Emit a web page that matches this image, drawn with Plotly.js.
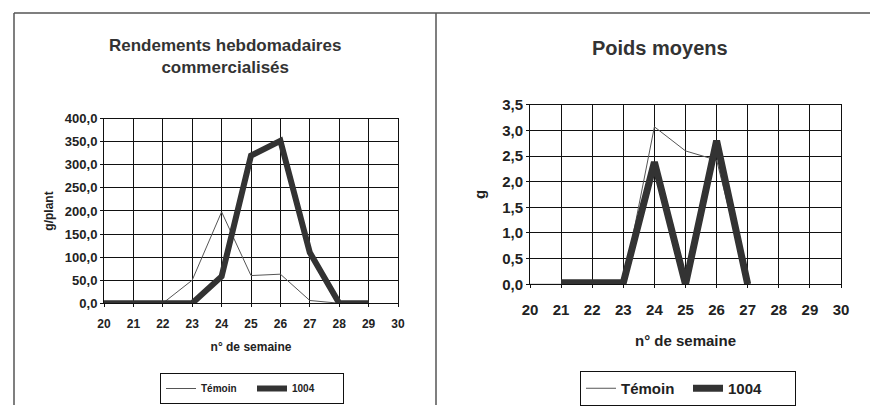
<!DOCTYPE html>
<html><head><meta charset="utf-8">
<script src="https://cdn.plot.ly/plotly-3.0.1.min.js"></script>
<style>html,body{margin:0;padding:0;background:#fff}</style>
</head><body><div id="chart" style="width:870px;height:406px"></div>
<script>
// Data
const weeks = [20, 21, 22, 23, 24, 25, 26, 27, 28, 29];
const rendTemoin = [0, 0, 0, 50, 198, 60, 63, 6, 0, 0];
const rend1004  = [0, 0, 0, 0, 58, 320, 352, 110, 0, 0];
const poidsWeeks = [20, 21, 22, 23, 24, 25, 26, 27];
const poidsTemoin = [0, 0, 0, 0, 3.07, 2.6, 2.42, 0];
const poids1004  = [null, 0.03, 0.03, 0.03, 2.38, 0, 2.8, 0];
const xTicks = [20, 21, 22, 23, 24, 25, 26, 27, 28, 29, 30];
const yTicksLeft = [0, 50, 100, 150, 200, 250, 300, 350, 400];
const yTicksRight = [0, 0.5, 1, 1.5, 2, 2.5, 3, 3.5];
const seriesNames = ['Témoin', '1004'];
const titleLeft = 'Rendements hebdomadaires<br>commercialisés';
const titleRight = 'Poids moyens';

const W = 870, H = 406;
const px = v => v / W, py = v => 1 - v / H;
const F = 'Liberation Sans, Arial, sans-serif';
const ink = '#222';
const thinC = '#555', thickC = '#333';
const bold = s => '<b>' + s + '</b>';
const fmt1 = v => bold(v.toFixed(1).replace('.', ','));

const traces = [
  {x: weeks, y: rendTemoin, name: bold(seriesNames[0]), mode: 'lines', line: {color: thinC, width: 1}, xaxis: 'x', yaxis: 'y', legend: 'legend'},
  {x: weeks, y: rend1004, name: bold(seriesNames[1]), mode: 'lines', line: {color: thickC, width: 6}, xaxis: 'x', yaxis: 'y', legend: 'legend'},
  {x: poidsWeeks, y: poidsTemoin, name: bold(seriesNames[0]), mode: 'lines', line: {color: thinC, width: 1}, xaxis: 'x2', yaxis: 'y2', legend: 'legend2'},
  {x: poidsWeeks, y: poids1004, name: bold(seriesNames[1]), mode: 'lines', line: {color: thickC, width: 7}, xaxis: 'x2', yaxis: 'y2', legend: 'legend2', connectgaps: false}
];

const axBase = {
  showgrid: true, gridcolor: '#111', gridwidth: 1, zeroline: false,
  showline: true, linecolor: '#111', linewidth: 1, mirror: true,
  ticks: 'outside', ticklen: 3, tickcolor: '#111', tickmode: 'array'
};

const layout = {
  width: W, height: H,
  margin: {l: 0, r: 0, t: 0, b: 0},
  paper_bgcolor: '#fff', plot_bgcolor: '#fff',
  separators: ', ',
  font: {family: F, color: ink},
  showlegend: true,
  xaxis: Object.assign({}, axBase, {
    domain: [px(104), px(398)], range: [20, 30], tickvals: xTicks, ticktext: xTicks.map(v => bold(String(v))),
    tickfont: {size: 12, family: F, color: ink}, ticklabelstandoff: 6,
    title: {text: '<b>n° de semaine</b>', font: {size: 12, family: F, color: ink}, standoff: 12},
    anchor: 'y'
  }),
  yaxis: Object.assign({}, axBase, {
    domain: [py(304), py(119)], range: [0, 400], tickvals: yTicksLeft, ticktext: yTicksLeft.map(fmt1),
    tickfont: {size: 13, family: F, color: ink},
    title: {text: '<b>g/plant</b>', font: {size: 12, family: F, color: ink}, standoff: 8},
    anchor: 'x'
  }),
  xaxis2: Object.assign({}, axBase, {
    domain: [px(530), px(841)], range: [20, 30], tickvals: xTicks, ticktext: xTicks.map(v => bold(String(v))),
    tickfont: {size: 15, family: F, color: ink}, ticklabelstandoff: 9,
    title: {text: '<b>n° de semaine</b>', font: {size: 15, family: F, color: ink}, standoff: 18},
    anchor: 'y2'
  }),
  yaxis2: Object.assign({}, axBase, {
    domain: [py(285), py(105)], range: [0, 3.5], tickvals: yTicksRight, ticktext: yTicksRight.map(fmt1),
    tickfont: {size: 15, family: F, color: ink},
    title: {text: '<b>g</b>', font: {size: 15, family: F, color: ink}, standoff: 12},
    anchor: 'x2'
  }),
  legend: {
    orientation: 'h', x: px(160), y: py(373), xanchor: 'left', yanchor: 'top',
    bordercolor: '#111', borderwidth: 1, bgcolor: '#fff',
    font: {size: 10, family: F, color: ink}, itemwidth: 30, tracegroupgap: 0, entrywidth: 46
  },
  legend2: {
    orientation: 'h', x: px(580), y: py(372), xanchor: 'left', yanchor: 'top',
    bordercolor: '#111', borderwidth: 1, bgcolor: '#fff',
    font: {size: 15, family: F, color: ink}, itemwidth: 30, tracegroupgap: 0, entrywidth: 62
  },
  annotations: [
    {text: titleLeft, xref: 'paper', yref: 'paper', x: px(225), y: py(57), xanchor: 'center', yanchor: 'middle', showarrow: false,
     font: {size: 17, family: F, weight: 'bold', color: '#333'}},
    {text: titleRight, xref: 'paper', yref: 'paper', x: px(660), y: py(48), xanchor: 'center', yanchor: 'middle', showarrow: false,
     font: {size: 20, family: F, weight: 'bold', color: '#333'}}
  ],
  shapes: [
    {type: 'line', xref: 'paper', yref: 'paper', x0: px(14), x1: 1, y0: py(13), y1: py(13), line: {color: '#555', width: 1.5}},
    {type: 'line', xref: 'paper', yref: 'paper', x0: px(14), x1: px(14), y0: 0, y1: py(13), line: {color: '#555', width: 1.5}},
    {type: 'line', xref: 'paper', yref: 'paper', x0: px(436), x1: px(436), y0: 0, y1: py(13), line: {color: '#555', width: 1.5}}
  ]
};

Plotly.newPlot('chart', traces, layout, {displayModeBar: false, staticPlot: true});
</script></body></html>
